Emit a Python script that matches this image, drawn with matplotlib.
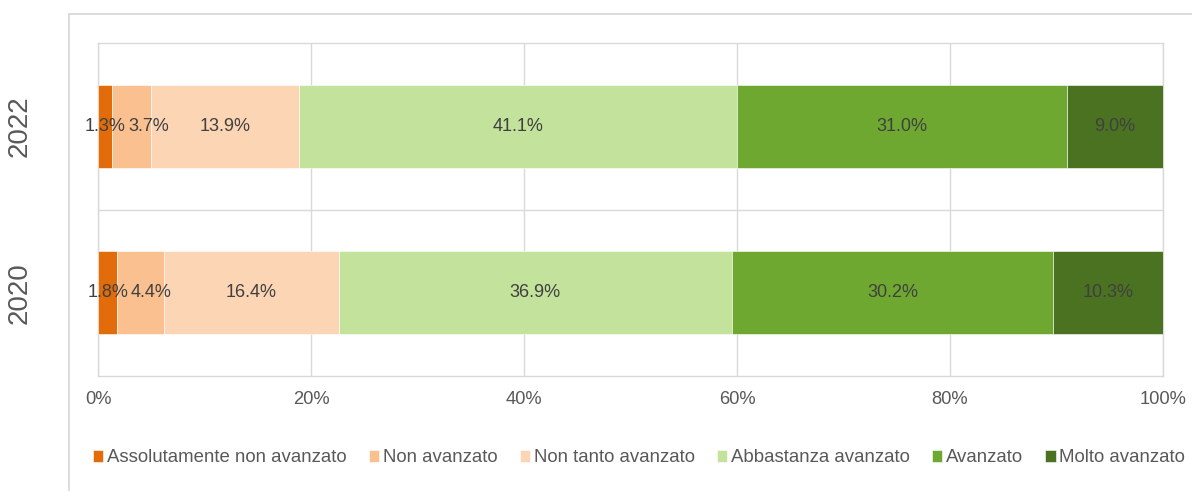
import matplotlib.pyplot as plt
from matplotlib.lines import Line2D

plt.rcParams["font.family"] = ["Liberation Sans", "DejaVu Sans"]

# data
years = ["2020", "2022"]
series_names = ["Assolutamente non avanzato", "Non avanzato", "Non tanto avanzato",
                "Abbastanza avanzato", "Avanzato", "Molto avanzato"]
values_2020 = [1.8, 4.4, 16.4, 36.9, 30.2, 10.3]
values_2022 = [1.3, 3.7, 13.9, 41.1, 31.0, 9.0]
x_ticks = [0, 20, 40, 60, 80, 100]
x_tick_labels = ["0%", "20%", "40%", "60%", "80%", "100%"]

colors = ["#E36C0A", "#FAC090", "#FCD5B5", "#C3E29B", "#6FA830", "#4A7220"]
grid_col = "#D9D9D9"
text_col = "#595959"

W, H = 1192, 491
fig = plt.figure(figsize=(W / 100, H / 100), dpi=100)
ax = fig.add_axes([98 / W, 1 - 376 / H, (1163 - 98) / W, (376 - 43) / H])

# outer chart frame (cropped)
fig.add_artist(Line2D([68.5 / W, 68.5 / W], [0, 1 - 14 / H], color=grid_col, lw=1.3))
fig.add_artist(Line2D([68.5 / W, 1], [1 - 14 / H, 1 - 14 / H], color=grid_col, lw=1.3))

rows = [values_2020, values_2022]
y_pos = list(range(len(years)))
left = [0.0] * len(years)
row_labels = [[] for _ in years]
for i, name in enumerate(series_names):
    vals = [r[i] for r in rows]
    bars = ax.barh(y_pos, vals, left=left, height=0.5, color=colors[i],
                   edgecolor="white", linewidth=0.4, label=name, zorder=3)
    texts = ax.bar_label(bars, labels=[f"{v:.1f}%" for v in vals], label_type="center",
                         fontsize=13, color="#404040", zorder=4)
    for j, t in enumerate(texts):
        row_labels[j].append(t)
    left = [l + v for l, v in zip(left, vals)]

ax.set_xlim(0, 100)
ax.set_ylim(-0.5, 1.5)
ax.set_xticks(x_ticks)
ax.set_xticklabels(x_tick_labels, fontsize=13.2, color=text_col)
ax.set_yticks(y_pos)
ax.set_yticklabels(years, rotation=90, va="center", fontsize=20, color=text_col)
ax.tick_params(axis="x", length=0, pad=11)
ax.tick_params(axis="y", length=0, pad=47)
ax.xaxis.grid(True, color=grid_col, lw=1.0, zorder=0)
ax.axhline(0.5, color=grid_col, lw=1.0, zorder=0)
ax.set_axisbelow(True)
for s in ax.spines.values():
    s.set_color(grid_col)
    s.set_linewidth(1.0)

# push crowded labels to the right, like Excel does
fig.canvas.draw()
renderer = fig.canvas.get_renderer()
for labels in row_labels:
    prev_right = None
    for t in labels:
        bb = t.get_window_extent(renderer)
        if prev_right is not None and bb.x0 < prev_right + 3:
            dx = prev_right + 3 - bb.x0
            t.xyann = (dx * 72 / fig.dpi, 0)
            bb = t.get_window_extent(renderer)
        prev_right = bb.x1

fig.legend(loc="center", bbox_to_anchor=(639 / W, 1 - 458 / H), ncol=6,
           frameon=False, fontsize=13.4, labelcolor=text_col,
           handlelength=0.55, handleheight=0.55, handletextpad=0.2,
           columnspacing=1.2, borderaxespad=0, borderpad=0)

fig.savefig("out.png", dpi=100)
